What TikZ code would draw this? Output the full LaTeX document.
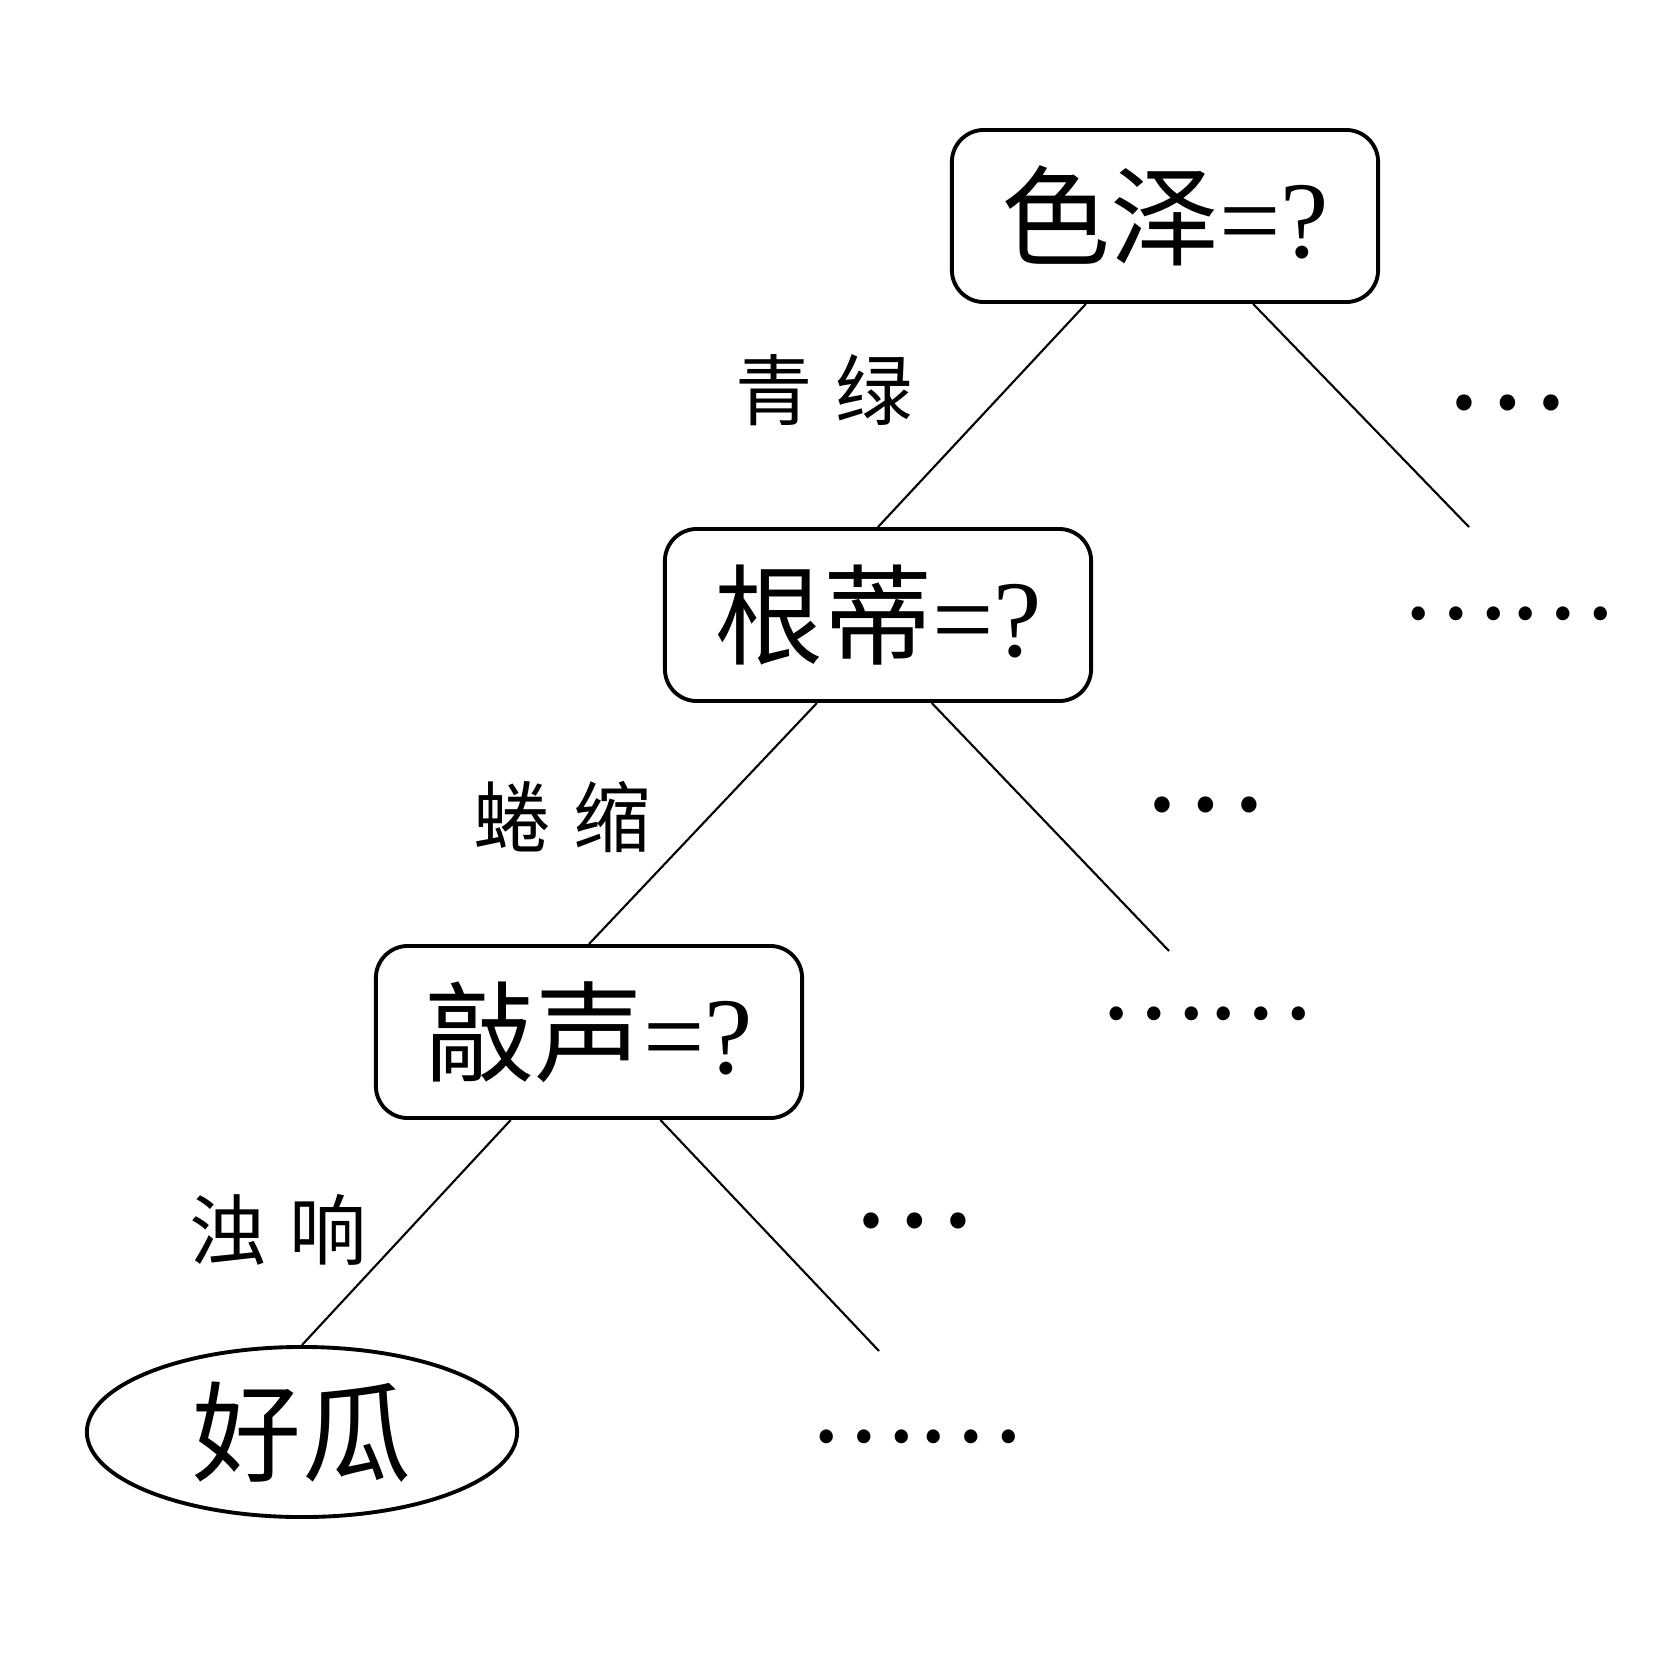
\documentclass[tikz,border=0pt]{standalone}
\usepackage{fontspec}
\newfontfamily\cjk{Noto Sans CJK SC}
\newfontfamily\tnr{Liberation Serif}
\usetikzlibrary{calc,shapes.geometric}
\begin{document}
\begin{tikzpicture}[x=0.01cm,y=-0.01cm,
  decbox/.style={draw, line width=1.1pt, rounded corners=0.32cm, minimum width=4.26cm, minimum height=1.72cm, inner sep=0pt, font=\fontsize{31}{36}\selectfont},
  leafnode/.style={draw, ellipse, line width=1.1pt, minimum width=4.3cm, minimum height=1.7cm, inner sep=0pt, font=\fontsize{31}{36}\selectfont},
  edge/.style={line width=0.6pt},
  lbl/.style={font=\cjk\fontsize{22}{26}\selectfont, inner sep=0pt},
  dots/.style={font=\cjk\fontsize{33}{36}\selectfont, inner sep=0pt},
  sixdots/.style={font=\cjk\fontsize{28.5}{32}\selectfont, inner sep=0pt}]
\useasboundingbox (0,0) rectangle (1660,1660);
\fill[white] (0,0) rectangle (1660,1660);
\node[decbox] (b1) at (1165,216) {{\cjk 色泽}{\tnr =?}};
\node[decbox] (b2) at (878,615) {{\cjk 根蒂}{\tnr =?}};
\node[decbox] (b3) at (589,1032) {{\cjk 敲声}{\tnr =?}};
\node[leafnode] (leaf) at (302,1432) {\cjk 好瓜};
\coordinate (e1) at (1469,527);
\coordinate (e2) at (1169,951);
\coordinate (e3) at (879,1351);
\draw[edge] ($(b1.south west)!0.316!(b1.south east)$) -- (b2.north);
\draw[edge] ($(b1.south west)!0.705!(b1.south east)$) -- (e1);
\draw[edge] ($(b2.south west)!0.358!(b2.south east)$) -- (b3.north);
\draw[edge] ($(b2.south west)!0.625!(b2.south east)$) -- (e2);
\draw[edge] ($(b3.south west)!0.318!(b3.south east)$) -- (leaf.north);
\draw[edge] ($(b3.south west)!0.666!(b3.south east)$) -- (e3);
\node[lbl] (l1) at (824,390) {青\hspace{0.3em}绿};
\node[lbl] (l2) at (562,817) {蜷\hspace{0.3em}缩};
\node[lbl] (l3) at (278,1230) {浊\hspace{0.3em}响};
\node[dots] (d1a) at (1506,403) {…};
\node[sixdots] (d1b) at (1508,614) {……};
\node[dots] (d2a) at (1204,805) {…};
\node[sixdots] (d2b) at (1206,1014) {……};
\node[dots] (d3a) at (913,1221) {…};
\node[sixdots] (d3b) at (916,1437) {……};
\end{tikzpicture}
\end{document}
